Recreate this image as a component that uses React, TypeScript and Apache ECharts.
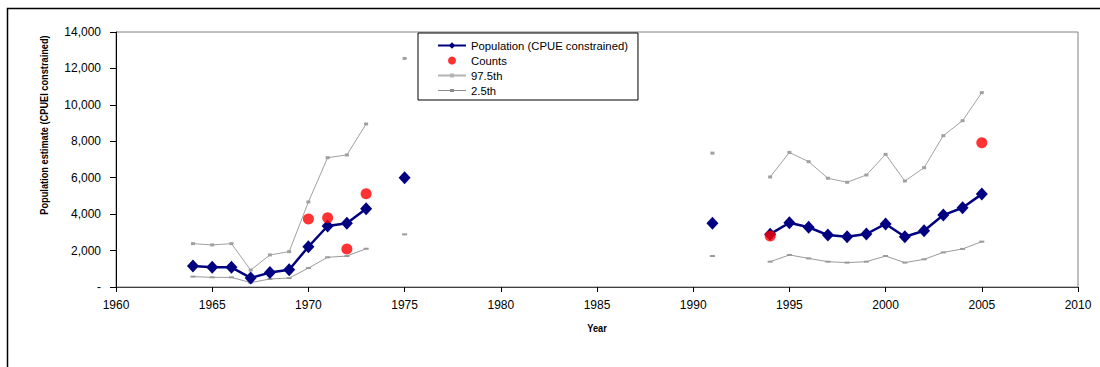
import React, { useEffect, useRef } from "react";
import * as echarts from "echarts";

const FONT = "'Liberation Sans', Arial, sans-serif";

// Years with a model estimate
const popYears = [
  1964, 1965, 1966, 1967, 1968, 1969, 1970, 1971, 1972, 1973, 1975, 1991,
  1994, 1995, 1996, 1997, 1998, 1999, 2000, 2001, 2002, 2003, 2004, 2005,
];
const population = [
  1150, 1080, 1080, 500, 790, 950, 2210, 3350, 3500, 4300, 6000, 3500,
  2900, 3530, 3280, 2850, 2760, 2910, 3460, 2760, 3090, 3950, 4350, 5100,
];
const upper975 = [
  2380, 2310, 2380, 930, 1760, 1940, 4670, 7100, 7250, 8950, 12550, 7350,
  6040, 7390, 6880, 5970, 5750, 6150, 7280, 5820, 6550, 8310, 9130, 10670,
];
const lower25 = [
  570, 530, 530, 240, 440, 490, 1040, 1630, 1700, 2100, 2890, 1700,
  1390, 1760, 1570, 1390, 1340, 1390, 1700, 1340, 1520, 1900, 2090, 2490,
];

const countYears = [1970, 1971, 1972, 1973, 1994, 2005];
const counts = [3730, 3800, 2090, 5120, 2800, 7920];

const yTicks = [0, 2000, 4000, 6000, 8000, 10000, 12000, 14000];
const xTicks = [1960, 1965, 1970, 1975, 1980, 1985, 1990, 1995, 2000, 2005, 2010];

// Build [year, value] pairs, inserting a break where years are not consecutive
function withBreaks(years: number[], vals: number[]) {
  const out: any[] = [];
  for (let i = 0; i < years.length; i++) {
    if (i > 0 && years[i] - years[i - 1] > 1) {
      out.push([years[i - 1] + 1, "-"]);
    }
    out.push([years[i], vals[i]]);
  }
  return out;
}

const ICON_UPPER = "path://M0,1 L28,1 L28,3 L0,3 Z M12,0 L16,0 L16,4 L12,4 Z";
const ICON_LOWER = "path://M0,1 L28,1 L28,2 L0,2 Z M12,0 L16,0 L16,3 L12,3 Z";

export default function App() {
  const ref = useRef<HTMLDivElement>(null);
  useEffect(() => {
    if (!ref.current) return;
    const chart = echarts.init(ref.current, undefined, { renderer: "svg" });
    const option: any = {
      animation: false,
      backgroundColor: "#fff",
      textStyle: { fontFamily: FONT },
      grid: {
        left: 116,
        right: 22,
        top: 32,
        bottom: 80,
        show: true,
        borderColor: "#808080",
        borderWidth: 1,
        backgroundColor: "transparent",
      },
      legend: {
        orient: "vertical",
        left: 418,
        top: 33,
        borderColor: "#000",
        borderWidth: 1,
        padding: [7, 10, 4, 19],
        itemWidth: 28,
        itemHeight: 8,
        itemGap: 4,
        textStyle: { fontSize: 11.3, fontFamily: FONT, color: "#000" },
        data: [
          { name: "Population (CPUE constrained)" },
          { name: "Counts", icon: "circle", itemStyle: { color: "#ff0000" } },
          { name: "97.5th", icon: ICON_UPPER, itemStyle: { color: "#b4b4b4" } },
          { name: "2.5th", icon: ICON_LOWER, itemStyle: { color: "#8c8c8c" } },
        ],
      },
      xAxis: {
        type: "value",
        min: xTicks[0],
        max: xTicks[xTicks.length - 1],
        interval: 5,
        axisLine: { show: true, lineStyle: { color: "#404040", width: 1 } },
        axisTick: { show: true, length: 5, lineStyle: { color: "#000" } },
        axisLabel: {
          fontSize: 12,
          color: "#000",
          fontFamily: FONT,
          margin: 12,
          formatter: (v: number) => String(v),
        },
        splitLine: { show: false },
      },
      yAxis: {
        type: "value",
        min: yTicks[0],
        max: yTicks[yTicks.length - 1],
        interval: 2000,
        axisLine: { show: true, lineStyle: { color: "#000", width: 1 } },
        axisTick: { show: true, length: 6, lineStyle: { color: "#000" } },
        axisLabel: {
          fontSize: 12,
          color: "#000",
          fontFamily: FONT,
          margin: 15,
          formatter: (v: number) => (v === 0 ? "-" : v.toLocaleString("en-US")),
        },
        splitLine: { show: false },
      },
      graphic: [
        {
          type: "polyline",
          silent: true,
          z: 100,
          shape: { points: [[7.5, 367], [7.5, 8.5], [1100, 8.5]] },
          style: { stroke: "#000", lineWidth: 1.5, fill: null },
        },
        {
          type: "text",
          x: 44,
          y: 125,
          rotation: Math.PI / 2,
          scaleX: 0.84,
          style: {
            text: "Population estimate (CPUEI constrained)",
            font: `bold 11px ${FONT}`,
            fill: "#000",
            align: "center",
            verticalAlign: "middle",
          },
        },
        {
          type: "text",
          x: 597,
          y: 328,
          scaleX: 0.84,
          style: {
            text: "Year",
            font: `bold 11px ${FONT}`,
            fill: "#000",
            align: "center",
            verticalAlign: "middle",
          },
        },
      ],
      series: [
        {
          name: "97.5th",
          type: "line",
          data: withBreaks(popYears, upper975),
          symbol: "rect",
          symbolSize: [4, 3],
          showSymbol: true,
          connectNulls: false,
          lineStyle: { color: "#a0a0a0", width: 1 },
          itemStyle: { color: "#a0a0a0" },
          z: 2,
        },
        {
          name: "2.5th",
          type: "line",
          data: withBreaks(popYears, lower25),
          symbol: "rect",
          symbolSize: [5, 2],
          showSymbol: true,
          connectNulls: false,
          lineStyle: { color: "#9a9a9a", width: 1 },
          itemStyle: { color: "#9a9a9a" },
          z: 2,
        },
        {
          name: "Population (CPUE constrained)",
          type: "line",
          data: withBreaks(popYears, population),
          symbol: "diamond",
          symbolSize: [12, 13],
          showSymbol: true,
          connectNulls: false,
          lineStyle: { color: "#000080", width: 2.5 },
          itemStyle: { color: "#000080" },
          z: 3,
        },
        {
          name: "Counts",
          type: "scatter",
          data: countYears.map((y, i) => [y, counts[i]]),
          symbol: "circle",
          symbolSize: 11,
          itemStyle: { color: "#ff0000" },
          z: 4,
        },
      ],
    };
    chart.setOption(option);
    return () => chart.dispose();
  }, []);
  return (
    <div
      ref={ref}
      style={{ position: "fixed", left: 0, top: 0, width: 1100, height: 367 }}
    />
  );
}
